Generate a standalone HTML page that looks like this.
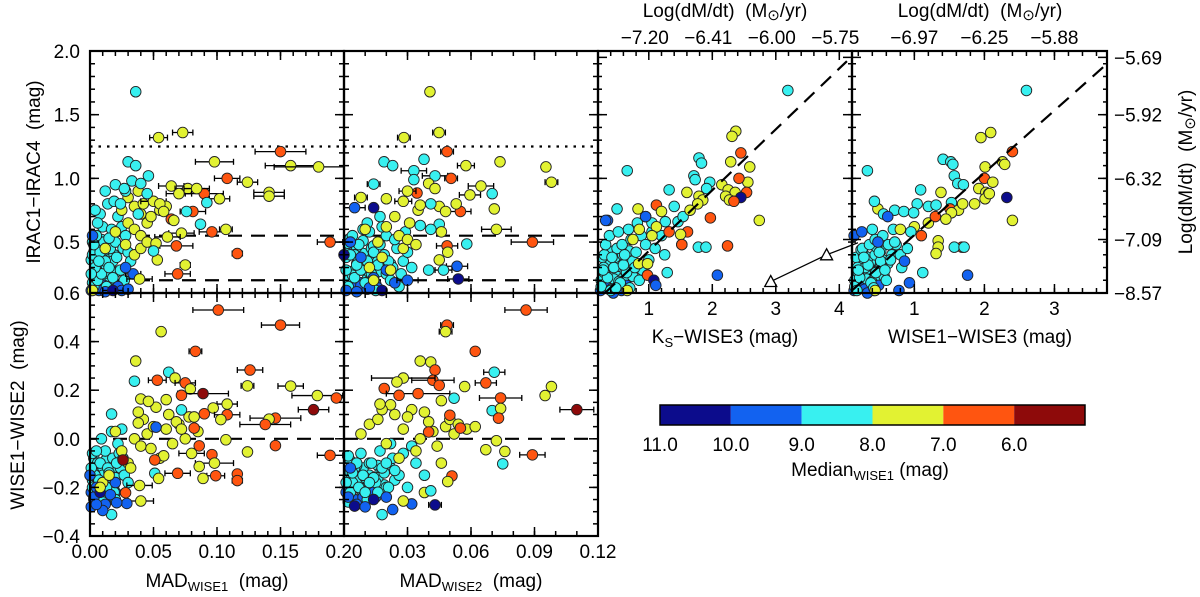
<!DOCTYPE html>
<html><head><meta charset="utf-8"><style>
html,body{margin:0;padding:0;background:#fff}
svg{display:block;font-family:"Liberation Sans",sans-serif}
</style></head><body>
<svg id="chart" width="1200" height="597" viewBox="0 0 1200 597"></svg>
<script>
// ---- palette categories (Median WISE1 bins)
const binLabels = ["11.0","10.0","9.0","8.0","7.0","6.0"];
const binColors = ["#0c0c8c","#1262f0","#38f0f0","#e2f232","#ff5510","#8e0a0a"];

// ---- Panel 1: MAD_WISE1 vs IRAC1-IRAC4
const p1x = [0.003,0.006,0.009,0.004,0.012,0.002,0.008,0.015,0.018,0.011,0.005,0.016,0.021,0.024,0.013,0.007,0.020,0.003,0.026,0.010,0.017,0.008,0.014,0.004,0.022,0.019,0.012,0.025,0.028,0.030,0.032,0.027,0.001,0.015,0.006,
0.002,0.022,0.025,0.030,0.012,0.001,0.034,0.028,0.018,
0.012,0.020,0.025,0.030,0.035,0.040,0.045,0.030,0.038,0.035,0.040,0.042,0.050,0.055,0.060,0.048,0.035,0.028,0.040,0.002,0.045,0.055,0.058,
0.030,0.036,0.033,0.040,0.028,0.046,0.038,0.045,0.020,0.027,0.024,
0.036,0.054,0.073,0.150,0.158,0.180,0.098,0.108,0.124,0.141,0.141,0.090,0.102,0.064,0.077,0.084,0.070,0.092,0.081,0.076,0.064,0.066,0.087,0.096,0.107,0.072,0.061,0.068,0.116,0.075,0.069,0.189,0.053,0.052,0.050,0.039];
const p1y = [0.15,0.20,0.25,0.30,0.35,0.40,0.42,0.30,0.22,0.50,0.55,0.45,0.38,0.28,0.15,0.35,0.50,0.48,0.45,0.62,0.60,0.72,0.80,0.75,0.70,0.82,0.90,0.62,0.55,0.42,0.35,0.20,0.25,0.53,0.65,
0.55,0.15,0.12,0.13,0.11,0.12,0.25,0.30,0.12,
0.45,0.58,0.75,0.65,0.60,0.55,0.65,0.85,0.90,0.78,0.72,0.80,0.82,0.75,0.78,0.70,0.40,0.48,0.45,0.12,0.50,0.80,0.74,
1.13,1.10,0.98,0.96,0.90,1.02,0.72,0.88,0.95,0.92,0.80,
1.68,1.32,1.36,1.21,1.10,1.09,1.13,1.00,0.97,0.89,0.86,0.88,0.84,0.94,0.92,0.92,0.88,0.81,0.74,0.74,0.68,0.67,0.64,0.58,0.60,0.57,0.54,0.47,0.41,0.32,0.25,0.50,0.36,0.49,0.43,0.21];
const p1c = [2,2,2,2,2,2,2,2,2,2,2,2,2,2,2,2,2,2,2,2,2,2,2,2,2,2,2,2,2,2,2,2,2,2,2,
1,1,1,1,1,1,1,1,0,
3,3,3,3,3,3,3,3,3,3,3,3,3,3,3,3,3,3,3,3,3,3,3,
2,2,2,2,2,2,2,2,2,2,2,
2,3,3,4,3,3,3,4,3,3,3,4,3,3,3,3,3,2,4,2,4,3,2,4,3,3,3,4,4,3,4,4,3,3,2,3];
const p1e = [0,0,0,0,0,0,0,0,0,0,0,0,0,0,0,0,0,0,0,0,0,0,0,0,0,0,0,0,0,0,0,0,0,0,0,
0,0,0,0,0,0,0.006,0,0.008,
0,0,0,0,0,0,0,0,0,0,0,0,0.01,0,0,0,0,0,0,0,0,0,0,
0,0,0,0,0,0,0,0,0,0,0,
0,0.007,0.008,0.02,0.02,0.035,0.015,0.01,0.008,0.012,0.012,0.015,0.008,0.01,0.01,0.01,0.01,0,0.01,0,0,0,0,0.01,0.005,0.01,0.01,0.013,0.004,0.004,0.01,0.01,0,0,0,0.01];
// dense core of panel 1
const p1dx = [0.002,0.004,0.006,0.008,0.010,0.012,0.014,0.016,0.001,0.003,0.005,0.007,0.009,0.011,0.013,0.015,0.017,0.019,0.002,0.006,0.010,0.014,0.018,0.004,0.008,0.012,0.016,0.020,0.003,0.009,0.005,0.011,0.007,0.013];
const p1dy = [0.18,0.26,0.32,0.20,0.28,0.38,0.24,0.34,0.36,0.42,0.14,0.30,0.40,0.22,0.44,0.18,0.28,0.40,0.50,0.45,0.33,0.48,0.35,0.22,0.17,0.27,0.13,0.26,0.55,0.52,0.38,0.16,0.12,0.31];
const p1dc = [2,2,2,2,2,2,2,2,2,2,1,2,2,2,2,2,2,2,2,2,2,2,2,2,1,2,1,2,2,2,2,1,1,2];

// ---- Panel 2: MAD_WISE2 vs IRAC1-IRAC4
const p2x = [0.002,0.005,0.008,0.011,0.014,0.017,0.020,0.023,0.003,0.007,0.010,0.013,0.016,0.019,0.022,0.025,0.028,0.004,0.009,0.012,0.018,0.024,0.027,0.030,0.006,0.015,0.021,0.026,0.032,0.001,0.011,0.017,0.029,
0.001,0.006,0.012,0.018,0.003,0.014,0.020,0.008,0.000,0.024,0.030,
0.016,0.020,0.024,0.018,0.028,0.022,0.012,0.026,0.031,0.035,0.014,0.030,0.010,0.034,
0.0406,0.0449,0.0283,0.0487,0.0378,0.0189,0.023,0.0576,0.0737,0.0954,0.098,0.033,0.043,0.0506,0.033,0.040,0.0647,0.014,0.0345,0.070,0.0595,0.008,0.005,0.014,0.071,0.055,0.053,0.045,0.048,0.036,0.041,0.028,0.020,0.030,0.043,0.045,0.036,0.041,0.072,0.046,0.089,0.058,0.0487,0.049,0.045,0.0534,0.040,0.047,0.054];
const p2y = [0.15,0.22,0.28,0.35,0.42,0.48,0.55,0.30,0.40,0.48,0.18,0.25,0.32,0.40,0.20,0.45,0.35,0.55,0.60,0.58,0.62,0.52,0.25,0.42,0.32,0.12,0.35,0.15,0.30,0.28,0.65,0.70,0.58,
0.12,0.11,0.14,0.12,0.50,0.22,0.28,0.38,0.40,0.18,0.20,
0.50,0.62,0.70,0.38,0.45,0.28,0.30,0.55,0.65,0.75,0.20,0.52,0.60,0.48,
1.68,1.36,1.32,1.21,1.15,1.13,1.10,1.10,1.13,1.09,0.97,1.06,1.02,1.00,0.99,0.96,0.94,0.955,0.885,0.88,0.87,0.85,0.77,0.77,0.76,0.74,0.80,0.78,0.74,0.79,0.80,0.82,0.84,0.90,0.92,0.64,0.63,0.60,0.60,0.58,0.50,0.485,0.47,0.42,0.36,0.31,0.28,0.28,0.21];
const p2c = [2,2,2,2,2,2,2,2,2,2,2,2,2,2,2,2,2,2,2,2,2,2,2,2,2,2,2,2,2,2,2,2,2,
1,1,1,0,1,1,1,1,0,1,1,
3,3,3,3,3,3,3,3,3,3,3,3,3,3,
3,3,3,4,2,2,2,3,3,3,3,2,2,4,2,3,3,2,4,2,3,3,1,0,3,4,3,3,3,3,2,3,3,3,3,2,2,2,3,3,4,2,4,3,3,1,2,2,0];
const p2e = [0,0,0,0,0,0,0,0,0,0,0,0,0,0,0,0,0,0,0,0,0,0,0,0,0,0,0,0,0,0,0,0,0,
0,0,0,0,0,0,0,0,0,0,0.005,
0,0,0,0,0,0,0,0,0,0,0,0,0,0,
0,0.003,0.003,0.003,0,0,0,0.004,0,0,0.003,0.006,0.006,0.003,0,0,0.006,0.003,0,0,0.005,0.003,0.005,0,0,0.005,0,0,0,0,0,0.004,0,0.004,0,0,0,0,0.007,0,0.01,0,0.005,0,0,0.005,0,0.004,0.005];
const p2dx = [0.002,0.004,0.006,0.008,0.010,0.012,0.014,0.016,0.001,0.003,0.005,0.007,0.009,0.011,0.013,0.015,0.017,0.019,0.002,0.006,0.010,0.014,0.018,0.004,0.008,0.012,0.016,0.020,0.003,0.009,0.022,0.005,0.011];
const p2dy = [0.20,0.27,0.33,0.18,0.29,0.37,0.23,0.35,0.38,0.44,0.15,0.31,0.41,0.21,0.45,0.17,0.27,0.39,0.49,0.46,0.34,0.47,0.36,0.24,0.16,0.26,0.14,0.25,0.53,0.51,0.33,0.40,0.13];
const p2dc = [2,2,2,1,2,2,2,2,2,2,1,2,2,2,2,1,2,2,2,2,2,2,2,2,1,2,1,2,2,2,2,2,1];

// ---- Panel 3: Ks-WISE3 vs IRAC1-IRAC4
const p3x = [0.25,0.35,0.45,0.55,0.65,0.75,0.85,0.30,0.40,0.50,0.60,0.70,0.80,0.90,1.00,0.28,0.42,0.58,0.72,0.88,0.32,0.48,0.62,0.78,0.95,1.10,0.38,0.52,0.68,0.82,1.05,1.20,
3.19,2.37,2.31,2.45,2.29,2.59,2.56,2.42,2.54,2.15,2.25,2.36,2.21,2.27,2.45,2.34,2.74,2.24,2.08,1.79,1.83,0.66,1.71,1.73,1.32,1.96,1.91,1.60,1.79,1.85,1.77,1.12,1.97,0.83,0.50,0.35,0.95,1.05,1.26,1.46,1.54,1.61,1.32,1.50,1.52,1.12,1.05,0.85,1.78,1.90,1.52,0.32,0.95,0.84,0.98,0.98,1.29,1.08,1.11,0.66,1.40,1.20,0.75,1.65,1.25];
const p3y = [0.15,0.22,0.30,0.18,0.26,0.35,0.20,0.40,0.12,0.45,0.32,0.14,0.42,0.28,0.36,0.28,0.38,0.48,0.52,0.55,0.48,0.14,0.40,0.30,0.48,0.45,0.55,0.58,0.60,0.65,0.58,0.55,
1.69,1.37,1.33,1.20,1.13,1.09,0.97,1.00,0.89,0.95,0.91,0.89,0.86,0.83,0.85,0.82,0.67,0.47,0.24,1.16,1.12,1.06,1.02,0.99,0.91,0.97,0.92,0.89,0.86,0.83,0.80,0.79,0.69,0.76,0.76,0.67,0.70,0.65,0.66,0.66,0.70,0.58,0.58,0.56,0.48,0.62,0.55,0.60,0.46,0.46,0.48,0.67,0.70,0.33,0.24,0.33,0.26,0.20,0.16,0.12,0.78,0.74,0.52,0.75,0.40];
const p3c = [2,2,2,2,2,2,2,2,2,2,2,2,2,2,2,2,2,2,2,2,2,2,2,2,2,2,2,2,2,2,2,2,
2,3,3,4,3,3,3,4,4,3,3,3,3,3,0,4,3,4,1,2,2,2,2,2,2,2,2,3,3,3,3,4,4,3,2,1,2,2,2,2,2,4,4,3,3,3,3,3,2,2,4,1,1,3,4,3,2,0,1,3,2,3,3,3,2];
const p3e = p3x.map(() => 0);
const p3dx = [0.25,0.30,0.36,0.42,0.48,0.54,0.60,0.66,0.72,0.27,0.33,0.39,0.45,0.51,0.57,0.63,0.69,0.75,0.81,0.29,0.35,0.41,0.47,0.53,0.59,0.65,0.71,0.24,0.44,0.56];
const p3dy = [0.20,0.26,0.33,0.17,0.25,0.31,0.22,0.29,0.36,0.38,0.15,0.41,0.21,0.34,0.12,0.27,0.43,0.23,0.33,0.30,0.44,0.13,0.38,0.19,0.40,0.16,0.30,0.12,0.10,0.46];
const p3dc = [2,2,2,2,2,2,2,2,2,2,1,2,2,2,1,2,2,2,2,2,2,2,2,2,2,1,2,1,1,2];

// ---- Panel 4: WISE1-WISE3 vs IRAC1-IRAC4
const p4x = [0.15,0.22,0.30,0.38,0.45,0.52,0.60,0.68,0.18,0.26,0.34,0.42,0.50,0.58,0.66,0.74,0.82,0.20,0.28,0.36,0.44,0.55,0.63,0.72,0.80,0.90,0.14,0.25,0.40,0.48,0.70,0.86,
2.60,1.95,2.09,2.40,1.41,1.52,1.55,2.01,2.26,2.29,0.33,1.57,2.00,2.12,1.62,1.70,1.09,1.38,1.92,2.02,2.06,2.01,2.07,2.32,2.40,1.04,1.20,1.31,1.53,1.51,0.48,0.43,1.63,1.53,1.69,1.86,0.56,0.72,0.85,0.99,0.62,1.68,1.57,1.71,1.34,1.34,1.31,1.12,1.76,0.93,0.78,0.44,0.80,1.00,1.20,1.10,0.95,1.45,1.30];
const p4y = [0.15,0.22,0.30,0.18,0.26,0.35,0.20,0.40,0.12,0.45,0.32,0.14,0.42,0.28,0.36,0.48,0.30,0.28,0.38,0.48,0.52,0.55,0.48,0.50,0.40,0.45,0.55,0.58,0.60,0.50,0.60,0.35,
1.69,1.32,1.36,1.21,1.15,1.13,1.11,1.09,1.13,1.11,1.06,1.02,1.00,0.97,0.96,0.95,0.91,0.89,0.92,0.89,0.88,0.84,0.88,0.85,0.67,0.80,0.78,0.79,0.81,0.76,0.76,0.82,0.75,0.73,0.80,0.80,0.72,0.75,0.74,0.73,0.70,0.46,0.46,0.46,0.51,0.46,0.41,0.26,0.24,0.18,0.12,0.12,0.60,0.62,0.65,0.55,0.58,0.68,0.70];
const p4c = [2,2,2,2,2,2,2,2,2,2,2,2,2,2,2,2,2,2,2,2,2,2,2,2,2,2,1,1,2,1,2,1,
2,3,3,4,2,2,2,3,3,3,2,2,4,3,2,2,2,3,3,3,4,3,3,0,3,2,2,2,2,4,3,2,3,3,3,3,2,2,2,2,1,4,2,2,3,3,3,2,1,1,1,3,3,3,3,4,2,3,4];
const p4e = p4x.map(() => 0);
const p4dx = [0.15,0.20,0.25,0.30,0.35,0.40,0.45,0.50,0.55,0.17,0.22,0.27,0.32,0.37,0.42,0.47,0.52,0.57,0.62,0.19,0.24,0.29,0.34,0.39,0.44,0.49,0.54,0.14,0.33,0.46];
const p4dy = [0.20,0.26,0.33,0.17,0.25,0.31,0.22,0.29,0.36,0.38,0.15,0.41,0.21,0.34,0.12,0.27,0.43,0.23,0.33,0.30,0.44,0.13,0.38,0.19,0.40,0.16,0.30,0.12,0.10,0.46];
const p4dc = [2,2,2,1,2,2,2,2,2,2,1,2,2,2,1,2,2,2,2,2,2,1,2,2,2,1,2,1,1,2];

// ---- Panel 5: MAD_WISE1 vs WISE1-WISE2
const p5x = [0.002,0.004,0.006,0.008,0.010,0.012,0.014,0.016,0.018,0.020,0.022,0.024,0.003,0.007,0.011,0.015,0.019,0.023,0.027,0.005,0.009,0.013,0.017,0.021,0.025,0.001,0.010,0.020,0.030,0.026,
0.001,0.003,0.005,0.012,0.016,0.000,0.008,0.020,
0.010,0.015,0.020,0.025,0.030,0.035,0.040,0.045,0.050,0.055,0.060,0.065,0.070,0.075,0.080,0.085,0.032,0.042,0.048,0.058,0.068,0.078,0.062,0.072,0.052,0.038,
0.101,0.150,0.056,0.083,0.036,0.126,0.062,0.067,0.035,0.053,0.075,0.079,0.124,0.158,0.089,0.072,0.179,0.194,0.176,0.017,0.040,0.046,0.060,0.108,0.097,0.108,0.090,0.082,0.146,0.141,0.138,0.103,0.072,0.052,0.082,0.038,0.146,0.107,0.124,0.189,0.086,0.096,0.098,0.086,0.069,0.099,0.089,0.116,0.116,0.051,0.051,0.054,0.039,0.028,0.040,0.029,0.021,0.017,0.010,0.005,0.026,0.008];
const p5y = [-0.20,-0.15,-0.22,-0.10,-0.18,-0.05,-0.12,-0.20,-0.08,-0.16,-0.02,-0.12,-0.25,-0.17,-0.24,-0.14,-0.22,-0.06,-0.15,-0.05,0.00,-0.20,0.03,-0.10,0.04,-0.12,-0.26,-0.25,-0.18,-0.08,
-0.28,-0.24,-0.20,-0.27,-0.23,-0.15,-0.22,-0.18,
-0.18,-0.15,0.03,-0.05,-0.10,0.00,-0.03,0.02,0.05,-0.08,0.04,-0.02,0.06,0.00,-0.06,0.03,-0.12,0.08,-0.04,-0.07,0.07,0.09,0.10,0.04,0.13,0.11,
0.53,0.468,0.441,0.36,0.32,0.283,0.274,0.25,0.237,0.241,0.23,0.205,0.218,0.217,0.186,0.179,0.178,0.168,0.12,0.102,0.164,0.154,0.161,0.143,0.127,0.099,0.103,0.09,0.085,0.081,0.059,0.079,0.119,0.048,0.044,0.065,-0.028,-0.004,-0.054,-0.068,-0.029,-0.065,-0.10,-0.114,-0.142,-0.152,-0.163,-0.145,-0.172,-0.087,-0.142,-0.163,-0.192,-0.222,-0.256,-0.266,-0.263,-0.312,-0.295,-0.27,-0.087,-0.20];
const p5c = [2,2,2,2,2,2,2,2,2,2,2,2,2,2,2,2,2,2,2,2,2,2,2,2,2,2,2,2,2,2,
1,1,1,1,1,1,0,1,
3,3,3,3,3,3,3,3,3,3,3,3,3,3,3,3,3,3,3,3,3,3,3,3,3,3,
4,4,3,4,3,4,2,3,2,4,4,3,3,3,5,4,3,4,5,2,3,3,3,3,3,4,4,3,4,3,4,3,2,1,4,3,4,3,3,4,4,4,3,3,4,4,3,4,4,4,2,3,3,4,3,1,1,2,1,1,5,3];
const p5e = [0,0,0,0,0,0,0,0,0,0,0,0,0,0,0,0,0,0,0,0,0,0,0,0,0,0,0,0,0,0,
0,0,0,0,0,0,0,0,
0,0,0,0,0,0,0,0,0,0,0,0,0,0,0.01,0,0,0,0,0,0,0,0,0,0,0,
0.02,0.015,0,0.005,0,0.01,0,0,0,0.007,0.008,0,0.005,0.01,0.02,0,0.02,0,0.012,0,0,0,0,0.008,0,0.01,0,0,0.02,0,0.02,0,0,0,0,0,0,0,0,0.01,0,0,0.015,0,0.01,0.007,0,0,0.004,0,0,0,0.01,0,0.01,0,0,0,0,0,0,0];
const p5dx = [0.002,0.004,0.006,0.008,0.010,0.012,0.014,0.016,0.001,0.003,0.005,0.007,0.009,0.011,0.013,0.015,0.017,0.019,0.002,0.006,0.010,0.014,0.018,0.004,0.008,0.012,0.016,0.020,0.003,0.009,0.005,0.011];
const p5dy = [-0.17,-0.21,-0.13,-0.19,-0.24,-0.15,-0.20,-0.11,-0.22,-0.08,-0.26,-0.16,-0.12,-0.21,-0.18,-0.25,-0.14,-0.19,-0.06,-0.10,-0.15,-0.23,-0.12,-0.18,-0.20,-0.09,-0.17,-0.22,-0.14,-0.23,-0.16,-0.19];
const p5dc = [2,1,2,2,1,2,2,2,1,2,1,2,2,2,2,1,2,2,2,2,2,1,2,2,2,2,2,1,2,1,0,2];

// ---- Panel 6: MAD_WISE2 vs WISE1-WISE2
const p6x = [0.001,0.003,0.005,0.007,0.009,0.011,0.013,0.015,0.017,0.019,0.021,0.023,0.002,0.006,0.010,0.014,0.018,0.022,0.026,0.004,0.008,0.012,0.016,0.020,0.024,0.028,0.030,0.034,0.038,0.032,
0.002,0.006,0.010,0.014,0.003,0.020,
0.008,0.012,0.016,0.020,0.024,0.028,0.032,0.036,0.040,0.044,0.048,0.052,0.022,0.026,0.030,0.034,0.038,0.042,0.046,0.050,0.054,0.058,0.018,0.062,
0.086,0.0487,0.048,0.062,0.036,0.041,0.043,0.071,0.042,0.045,0.028,0.025,0.067,0.019,0.057,0.098,0.035,0.026,0.074,0.095,0.11,0.052,0.046,0.017,0.070,0.074,0.073,0.050,0.055,0.040,0.072,0.076,0.067,0.089,0.075,0.051,0.049,0.038,0.041,0.043,0.032,0.028,0.023,0.018,0.005];
const p6y = [-0.18,-0.22,-0.12,-0.20,-0.15,-0.25,-0.10,-0.18,-0.05,-0.14,-0.20,-0.08,-0.26,-0.10,-0.22,-0.16,-0.12,-0.02,-0.15,-0.14,-0.06,-0.18,-0.22,-0.10,-0.13,-0.06,-0.20,-0.10,-0.15,-0.03,
-0.24,-0.27,-0.28,-0.25,-0.12,-0.24,
0.02,0.06,0.08,-0.02,0.10,0.04,0.12,0.00,0.07,-0.03,0.05,0.02,0.14,-0.08,0.09,-0.05,0.11,0.03,-0.10,0.08,0.06,0.04,0.12,0.05,
0.53,0.468,0.441,0.36,0.32,0.316,0.283,0.274,0.241,0.22,0.25,0.234,0.23,0.207,0.215,0.215,0.186,0.179,0.168,0.178,0.12,0.167,0.157,0.143,0.116,0.125,0.085,0.097,0.044,0.028,-0.008,-0.052,-0.045,-0.066,-0.103,-0.153,-0.176,-0.221,-0.214,-0.272,-0.268,-0.256,-0.291,-0.312,-0.277];
const p6c = [2,2,2,2,2,2,2,2,2,2,2,2,2,2,2,2,2,2,2,2,2,2,2,2,2,2,2,2,2,2,
1,1,1,0,1,1,
3,3,3,3,3,3,3,3,3,3,3,3,3,3,3,3,3,3,3,3,3,3,3,3,
4,4,3,4,3,3,4,2,4,4,3,3,4,4,3,3,4,4,4,3,5,2,3,3,2,3,4,4,4,4,3,3,3,4,2,4,3,3,2,0,1,3,1,2,0];
const p6e = [0,0,0,0,0,0,0,0,0,0,0,0,0,0,0,0,0,0,0,0,0,0,0,0,0,0,0,0,0,0,
0,0,0,0,0,0,
0,0,0,0,0,0,0,0,0,0,0,0,0,0,0,0,0,0,0,0,0,0,0,0,
0.01,0.003,0.003,0,0,0,0,0.005,0.01,0,0.015,0,0.005,0,0,0,0.015,0,0.01,0,0.008,0,0,0,0,0,0,0,0,0,0,0,0,0.006,0,0,0,0,0,0.003,0,0,0,0,0];
const p6dx = [0.002,0.004,0.006,0.008,0.010,0.012,0.014,0.016,0.001,0.003,0.005,0.007,0.009,0.011,0.013,0.015,0.017,0.019,0.002,0.006,0.010,0.014,0.018,0.004,0.008,0.012,0.016,0.020,0.003,0.009,0.022,0.024];
const p6dy = [-0.16,-0.20,-0.13,-0.21,-0.23,-0.15,-0.19,-0.11,-0.22,-0.09,-0.25,-0.17,-0.12,-0.20,-0.18,-0.24,-0.14,-0.19,-0.07,-0.11,-0.16,-0.22,-0.13,-0.18,-0.21,-0.10,-0.16,-0.20,-0.14,-0.24,-0.12,-0.17];
const p6dc = [2,1,2,2,1,2,2,2,1,2,1,2,2,2,2,1,2,2,2,2,2,1,2,2,2,2,2,2,2,1,2,2];

// ---- Axis tick labels
const p1YTicks = [0.5,1.0,1.5,2.0];
const p5YTicks = [0.6,0.4,0.2,0.0,-0.2,-0.4];
const p5XTicks = [0.00,0.05,0.10,0.15,0.20];
const p6XTicks = [0.03,0.06,0.09,0.12];
const p3XTicks = [1,2,3,4];
const p4XTicks = [1,2,3];
const p3TopLabels = ["−7.20","−6.41","−6.00","−5.75"];
const p4TopLabels = ["−6.97","−6.25","−5.88"];
const rightTickVals = [1.95,1.5,1.0,0.52,0.1];
const rightTickLabels = ["−5.69","−5.92","−6.32","−7.09","−8.57"];

const NS = "http://www.w3.org/2000/svg";
const svg = document.getElementById("chart");
function el(tag, attrs, parent) {
  const e = document.createElementNS(NS, tag);
  for (const k in attrs) e.setAttribute(k, attrs[k]);
  (parent || svg).appendChild(e);
  return e;
}
function lin(d0, d1, r0, r1) { return v => r0 + (v - d0) / (d1 - d0) * (r1 - r0); }
function zeros(a) { return a.map(() => 0); }

const yTop = lin(0.1, 2.0, 293, 51);
const yBot = lin(-0.4, 0.6, 536, 293);
const P = [
  {n:"irac-vs-mad-wise1", x:lin(0,0.2,90,344), y:yTop, X:p1dx.concat(p1x), Y:p1dy.concat(p1y), C:p1dc.concat(p1c), E:zeros(p1dx).concat(p1e), L:90, R:344, T:51, B:293},
  {n:"irac-vs-mad-wise2", x:lin(0,0.12,344,598), y:yTop, X:p2dx.concat(p2x), Y:p2dy.concat(p2y), C:p2dc.concat(p2c), E:zeros(p2dx).concat(p2e), L:344, R:598, T:51, B:293},
  {n:"irac-vs-ks-wise3", x:lin(0.2,4.2,598,852), y:yTop, X:p3dx.concat(p3x), Y:p3dy.concat(p3y), C:p3dc.concat(p3c), E:zeros(p3dx).concat(p3e), L:598, R:852, T:51, B:293},
  {n:"irac-vs-wise1-wise3", x:lin(0.11,3.75,852,1107), y:yTop, X:p4dx.concat(p4x), Y:p4dy.concat(p4y), C:p4dc.concat(p4c), E:zeros(p4dx).concat(p4e), L:852, R:1107, T:51, B:293},
  {n:"w12-vs-mad-wise1", x:lin(0,0.2,90,344), y:yBot, X:p5dx.concat(p5x), Y:p5dy.concat(p5y), C:p5dc.concat(p5c), E:zeros(p5dx).concat(p5e), L:90, R:344, T:293, B:536},
  {n:"w12-vs-mad-wise2", x:lin(0,0.12,344,598), y:yBot, X:p6dx.concat(p6x), Y:p6dy.concat(p6y), C:p6dc.concat(p6c), E:zeros(p6dx).concat(p6e), L:344, R:598, T:293, B:536}
];

function refLine(p, x1, y1, x2, y2, dash, name) {
  const l = el("line", {x1:p.x(x1), y1:p.y(y1), x2:p.x(x2), y2:p.y(y2), stroke:"#000", "stroke-width":2.2, "stroke-dasharray":dash});
  
  
}
refLine(P[0],0,1.25,0.2,1.25,"2.5 6","dotted-threshold");
refLine(P[1],0,1.25,0.12,1.25,"2.5 6","dotted-threshold");
refLine(P[0],0,0.55,0.2,0.55,"14 9","dashed-line");
refLine(P[1],0,0.55,0.12,0.55,"14 9","dashed-line");
refLine(P[0],0,0.2,0.2,0.2,"14 9","dashed-line");
refLine(P[1],0,0.2,0.12,0.2,"14 9","dashed-line");
refLine(P[4],0,0,0.2,0,"14 9","dashed-zero");
refLine(P[5],0,0,0.12,0,"14 9","dashed-zero");

P.forEach(p => {
  const g = el("g", {});
  
  
  for (let i = 0; i < p.X.length; i++) {
    const cx = p.x(p.X[i]), cy = p.y(p.Y[i]);
    if (p.E[i] > 0) {
      const xa = Math.max(p.L, p.x(p.X[i] - p.E[i])), xb = Math.min(p.R, p.x(p.X[i] + p.E[i]));
      el("line", {x1:xa, y1:cy, x2:xb, y2:cy, stroke:"#000", "stroke-width":1.3}, g);
      el("line", {x1:xa, y1:cy-3, x2:xa, y2:cy+3, stroke:"#000", "stroke-width":1.3}, g);
      el("line", {x1:xb, y1:cy-3, x2:xb, y2:cy+3, stroke:"#000", "stroke-width":1.3}, g);
    }
    const c = el("circle", {cx:cx, cy:cy, r:5.3, fill:binColors[p.C[i]], stroke:"#222", "stroke-width":0.9}, g);
    
    
  }
});

refLine(P[2],0.31,0.1,4.12,1.92,"14 9","relation-line");
refLine(P[3],0.11,0.12,3.73,1.89,"14 9","relation-line");

const triX = [2.92,3.80];
const triY = [0.19,0.40];
{
  const p = P[2];
  const ax = p.x(triX[0]), ay = p.y(triY[0]), bx = p.x(triX[1]), by = p.y(triY[1]);
  const conn = el("polyline", {points:`${ax},${ay} ${bx},${by} ${P[3].L+6},${by-12}`, fill:"none", stroke:"#000", "stroke-width":1.3});
  
  
  [[ax,ay],[bx,by]].forEach(([tx,ty]) => {
    const t = el("polygon", {points:`${tx},${ty-6} ${tx-6},${ty+5} ${tx+6},${ty+5}`, fill:"#fff", stroke:"#000", "stroke-width":1.3});
    
    
  });
}

function ticks(p, axis, vals, len) {
  vals.forEach(v => {
    if (axis === "x") {
      const x = p.x(v); if (x < p.L - 0.5 || x > p.R + 0.5) return;
      el("line", {x1:x, y1:p.B, x2:x, y2:p.B - len, stroke:"#000", "stroke-width":1.5});
      el("line", {x1:x, y1:p.T, x2:x, y2:p.T + len, stroke:"#000", "stroke-width":1.5});
    } else {
      const y = p.y(v); if (y < p.T - 0.5 || y > p.B + 0.5) return;
      el("line", {x1:p.L, y1:y, x2:p.L + len, y2:y, stroke:"#000", "stroke-width":1.5});
      el("line", {x1:p.R, y1:y, x2:p.R - len, y2:y, stroke:"#000", "stroke-width":1.5});
    }
  });
}
function range(a, b, s) { const r = []; for (let v = a; v <= b + 1e-9; v += s) r.push(+v.toFixed(4)); return r; }
P.forEach((p, i) => {
  const f = el("rect", {x:p.L, y:p.T, width:p.R-p.L, height:p.B-p.T, fill:"none", stroke:"#000", "stroke-width":2.2});
  
  
  if (i === 0 || i === 4) { ticks(p,"x",range(0,0.2,0.05),9); ticks(p,"x",range(0,0.2,0.01),5); }
  if (i === 1 || i === 5) { ticks(p,"x",range(0,0.12,0.03),9); ticks(p,"x",range(0,0.12,0.01),5); }
  if (i === 2) { ticks(p,"x",range(1,4,1),9); ticks(p,"x",range(0.2,4.2,0.2),5); }
  if (i === 3) { ticks(p,"x",range(1,3,1),9); ticks(p,"x",range(0.2,3.6,0.2),5); }
  if (i < 2) { ticks(p,"y",range(0.5,2.0,0.5),9); ticks(p,"y",range(0.1,2.0,0.1),5); }
  if (i >= 4) { ticks(p,"y",range(-0.4,0.6,0.2),9); ticks(p,"y",range(-0.4,0.6,0.05),5); }
  if (i === 2 || i === 3) { ticks(p,"y",rightTickVals,9); ticks(p,"y",range(0.2,1.9,0.1),4); }
});

function text(x, y, s, opts, name) {
  const t = el("text", Object.assign({x:x, y:y, "font-size":19, fill:"#000"}, opts || {}));
  t.innerHTML = s;
  
  
  return t;
}
p1YTicks.forEach(v => text(80, yTop(v)+7, v.toFixed(1), {"text-anchor":"end"}, "y-tick-label"));
p5YTicks.forEach(v => text(80, yBot(v)+7, (v<0?"−":"")+Math.abs(v).toFixed(1), {"text-anchor":"end"}, "y-tick-label"));
p5XTicks.forEach(v => text(P[4].x(v), 558, v.toFixed(2), {"text-anchor":"middle"}, "x-tick-label"));
p6XTicks.forEach(v => text(P[5].x(v), 558, v.toFixed(2), {"text-anchor":"middle"}, "x-tick-label"));
p3XTicks.forEach(v => text(P[2].x(v), 315, String(v), {"text-anchor":"middle"}, "x-tick-label"));
p4XTicks.forEach(v => text(P[3].x(v), 315, String(v), {"text-anchor":"middle"}, "x-tick-label"));
p3TopLabels.forEach((s,i) => text(P[2].x(p3XTicks[i]) - 4, 44, s, {"text-anchor":"middle"}, "top-tick-label"));
p4TopLabels.forEach((s,i) => text(P[3].x(p4XTicks[i]), 44, s, {"text-anchor":"middle"}, "top-tick-label"));
rightTickVals.forEach((v,i) => text(1114, yTop(v)+7, rightTickLabels[i], {}, "right-tick-label"));

const msun = "(M<tspan font-size='15' dy='3'>⊙</tspan><tspan dy='-3'>/yr)</tspan>";
text(725, 17, "Log(dM/dt) &#160;" + msun, {"text-anchor":"middle"}, "top-axis-title");
text(980, 17, "Log(dM/dt) &#160;" + msun, {"text-anchor":"middle"}, "top-axis-title");
text(217, 587, "MAD<tspan font-size='13' dy='4'>WISE1</tspan><tspan dy='-4'> &#160;(mag)</tspan>", {"text-anchor":"middle"}, "x-axis-title");
text(471, 587, "MAD<tspan font-size='13' dy='4'>WISE2</tspan><tspan dy='-4'> &#160;(mag)</tspan>", {"text-anchor":"middle"}, "x-axis-title");
text(725, 343, "K<tspan font-size='13' dy='4'>S</tspan><tspan dy='-4'>−WISE3 (mag)</tspan>", {"text-anchor":"middle"}, "x-axis-title");
text(980, 343, "WISE1−WISE3 (mag)", {"text-anchor":"middle"}, "x-axis-title");
text(0, 0, "IRAC1−IRAC4 &#160;(mag)", {"text-anchor":"middle", transform:"translate(40,172) rotate(-90)"}, "y-axis-title");
text(0, 0, "WISE1−WISE2 &#160;(mag)", {"text-anchor":"middle", transform:"translate(24,415) rotate(-90)"}, "y-axis-title");
text(0, 0, "Log(dM/dt) &#160;" + msun, {"text-anchor":"middle", transform:"translate(1192,172) rotate(-90)"}, "right-axis-title");

{
  const cbL = 660, cbR = 1085, cbT = 405, cbB = 425;
  const w = (cbR - cbL) / binColors.length;
  const g = el("g", {});
  
  
  binColors.forEach((c, i) => {
    const r = el("rect", {x:cbL + i*w, y:cbT, width:w, height:cbB-cbT, fill:c}, g);
    
    
  });
  el("rect", {x:cbL, y:cbT, width:cbR-cbL, height:cbB-cbT, fill:"none", stroke:"#000", "stroke-width":1.5}, g);
  binLabels.forEach((s, i) => text(cbL + i*w, 451, s, {"text-anchor":"middle"}, "colorbar-label"));
  text(870, 476, "Median<tspan font-size='13' dy='4'>WISE1</tspan><tspan dy='-4'> (mag)</tspan>", {"text-anchor":"middle"}, "colorbar-title");
}
</script>
</body></html>
